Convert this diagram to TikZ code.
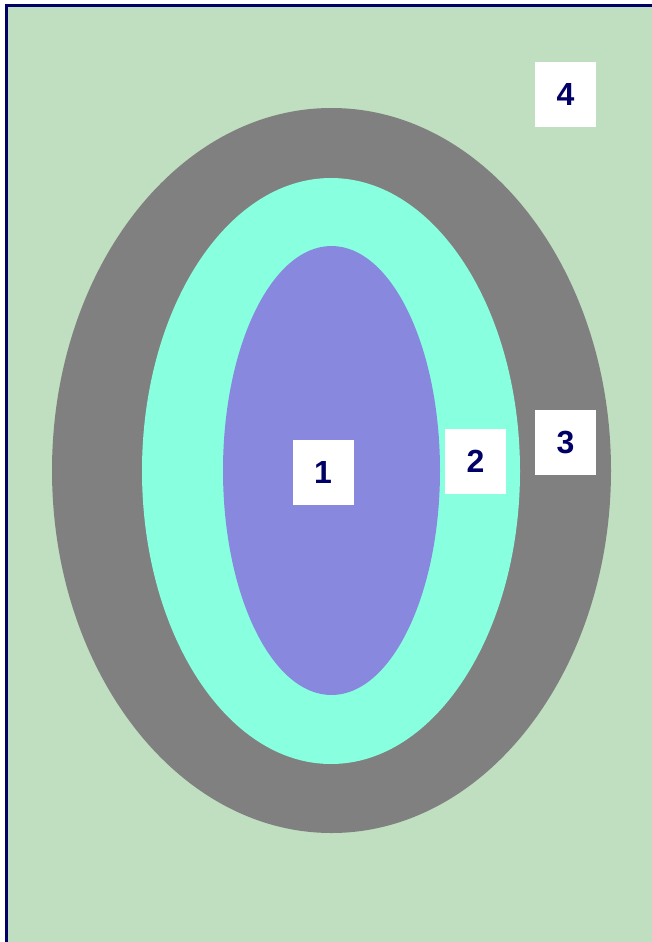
\documentclass[tikz,border=0pt]{standalone}
\usepackage{fontspec}
\setmainfont{Liberation Sans}
\definecolor{bggreen}{RGB}{192,222,192}
\definecolor{ringgray}{RGB}{128,128,128}
\definecolor{aqua}{RGB}{136,255,222}
\definecolor{lav}{RGB}{136,136,222}
\definecolor{navy}{RGB}{0,0,102}
\tikzset{
  lbl/.style={fill=white, text=navy, font=\fontsize{32}{32}\selectfont\bfseries, minimum width=61pt, minimum height=65pt, inner sep=0pt}
}
\begin{document}
\begin{tikzpicture}[x=1pt,y=-1pt]
\useasboundingbox (0,0) rectangle (652,942);
\clip (0,0) rectangle (652,942);
\fill[white] (0,0) rectangle (652,942);
\draw[fill=bggreen, draw=navy, line width=2.5pt] (6.5,5.5) rectangle (670,960);
\fill[ringgray] (331.5,470.5) ellipse [x radius=279.5, y radius=362.5];
\fill[aqua] (331,471) ellipse [x radius=189, y radius=293];
\fill[lav] (331.5,470.5) ellipse [x radius=108.5, y radius=224.5];
\node[lbl] (l1) at (323,472.5) {1};
\node[lbl] (l2) at (475.5,461.5) {2};
\node[lbl] (l3) at (565.5,442.5) {3};
\node[lbl] (l4) at (565.5,94.5) {4};
\end{tikzpicture}
\end{document}
